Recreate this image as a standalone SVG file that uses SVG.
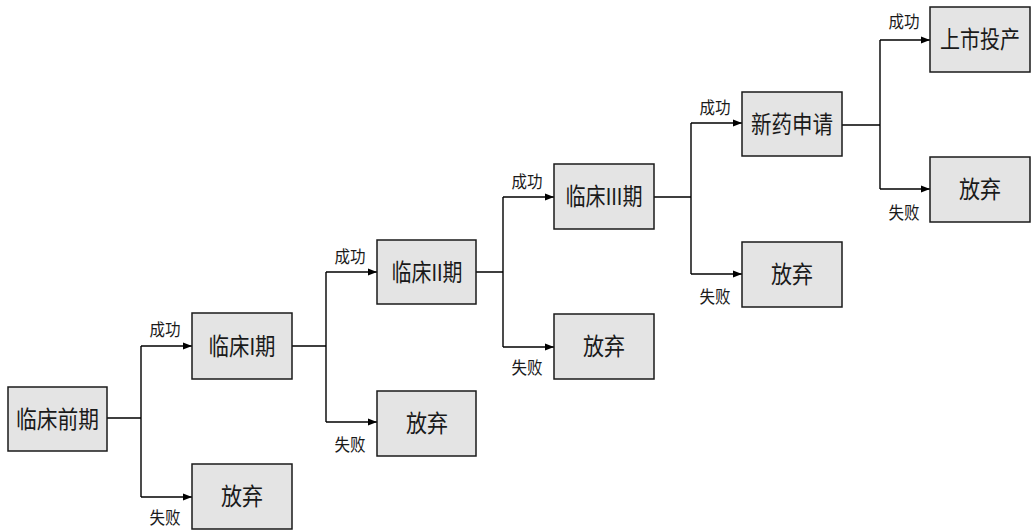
<svg xmlns="http://www.w3.org/2000/svg" width="1032" height="531" viewBox="0 0 1032 531">
<defs>
<marker id="arr" markerUnits="userSpaceOnUse" markerWidth="10" markerHeight="8" refX="9" refY="4" orient="auto">
<path d="M0,0.5 L9,4 L0,7.5 z" fill="#000"/>
</marker>
<style>
.box{fill:#e4e4e4;stroke:#1a1a1a;stroke-width:1.5}
.t{font-family:"Liberation Sans","Noto Sans CJK SC",sans-serif;font-size:24px;fill:#1a1a1a;text-anchor:middle}
.l{font-family:"Liberation Sans","Noto Sans CJK SC",sans-serif;font-size:17px;fill:#1a1a1a;text-anchor:middle}
.c{fill:none;stroke:#000;stroke-width:1.4}
.a{fill:none;stroke:#000;stroke-width:1.4;marker-end:url(#arr)}
</style>
</defs>
<rect width="1032" height="531" fill="#fff"/>
<g id="connectors">
<path class="c" d="M107,418 H141 M141,346 V497"/>
<path class="a" d="M141,346 H192"/>
<path class="a" d="M141,497 H192"/>
<path class="c" d="M292,346 H326 M326,272 V422"/>
<path class="a" d="M326,272 H377"/>
<path class="a" d="M326,422 H377"/>
<path class="c" d="M476,272 H503 M503,197 V347"/>
<path class="a" d="M503,197 H554"/>
<path class="a" d="M503,347 H554"/>
<path class="c" d="M654,197 H691 M691,123 V274"/>
<path class="a" d="M691,123 H742"/>
<path class="a" d="M691,274 H742"/>
<path class="c" d="M842,125 H880 M880,40 V189"/>
<path class="a" d="M880,40 H930"/>
<path class="a" d="M880,189 H930"/>
<text class="l" x="165" y="336" textLength="31" lengthAdjust="spacingAndGlyphs">成功</text>
<text class="l" x="165" y="524" textLength="31" lengthAdjust="spacingAndGlyphs">失败</text>
<text class="l" x="350" y="263" textLength="31" lengthAdjust="spacingAndGlyphs">成功</text>
<text class="l" x="350" y="451" textLength="31" lengthAdjust="spacingAndGlyphs">失败</text>
<text class="l" x="527" y="188" textLength="31" lengthAdjust="spacingAndGlyphs">成功</text>
<text class="l" x="527" y="374" textLength="31" lengthAdjust="spacingAndGlyphs">失败</text>
<text class="l" x="715" y="114" textLength="31" lengthAdjust="spacingAndGlyphs">成功</text>
<text class="l" x="715" y="303" textLength="31" lengthAdjust="spacingAndGlyphs">失败</text>
<text class="l" x="904" y="28" textLength="31" lengthAdjust="spacingAndGlyphs">成功</text>
<text class="l" x="904" y="219" textLength="31" lengthAdjust="spacingAndGlyphs">失败</text>
</g>
<g id="n0"><rect class="box" x="8" y="387" width="99" height="64"/><text class="t" x="57.5" y="428" textLength="83" lengthAdjust="spacingAndGlyphs">临床前期</text></g>
<g id="n1"><rect class="box" x="192" y="313" width="100" height="66"/><text class="t" x="242" y="355" textLength="67" lengthAdjust="spacingAndGlyphs">临床I期</text></g>
<g id="n1f"><rect class="box" x="192" y="464" width="100" height="65"/><text class="t" x="242" y="505" textLength="42" lengthAdjust="spacingAndGlyphs">放弃</text></g>
<g id="n2"><rect class="box" x="377" y="240" width="99" height="64"/><text class="t" x="427" y="281" textLength="71" lengthAdjust="spacingAndGlyphs">临床II期</text></g>
<g id="n2f"><rect class="box" x="377" y="391" width="99" height="65"/><text class="t" x="427" y="432" textLength="42" lengthAdjust="spacingAndGlyphs">放弃</text></g>
<g id="n3"><rect class="box" x="554" y="164" width="100" height="65"/><text class="t" x="604" y="205" textLength="77" lengthAdjust="spacingAndGlyphs">临床III期</text></g>
<g id="n3f"><rect class="box" x="554" y="314" width="100" height="65"/><text class="t" x="604" y="355" textLength="42" lengthAdjust="spacingAndGlyphs">放弃</text></g>
<g id="n4"><rect class="box" x="742" y="92" width="100" height="64"/><text class="t" x="792" y="133" textLength="82" lengthAdjust="spacingAndGlyphs">新药申请</text></g>
<g id="n4f"><rect class="box" x="742" y="242" width="100" height="65"/><text class="t" x="792" y="283" textLength="42" lengthAdjust="spacingAndGlyphs">放弃</text></g>
<g id="n5"><rect class="box" x="930" y="7" width="100" height="65"/><text class="t" x="980" y="48" textLength="80" lengthAdjust="spacingAndGlyphs">上市投产</text></g>
<g id="n5f"><rect class="box" x="930" y="157" width="100" height="65"/><text class="t" x="980" y="198" textLength="42" lengthAdjust="spacingAndGlyphs">放弃</text></g>
</svg>
